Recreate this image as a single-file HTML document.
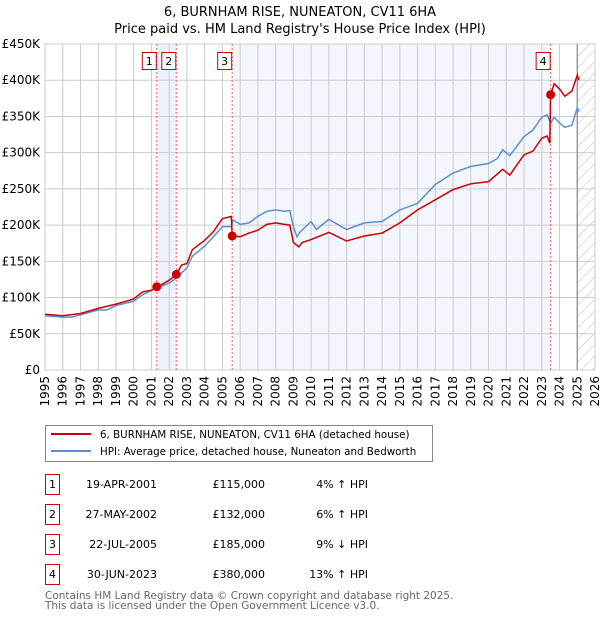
<!DOCTYPE html>
<html><head><meta charset="utf-8"><style>
body{margin:0;background:#fff;width:600px;height:620px;overflow:hidden;font-family:"DejaVu Sans","Liberation Sans",sans-serif}
svg text{font-family:"DejaVu Sans","Liberation Sans",sans-serif}
</style></head><body>
<svg id="chart" width="600" height="620" xmlns="http://www.w3.org/2000/svg">
<defs><pattern id="hatch" patternUnits="userSpaceOnUse" width="8" height="8" patternTransform="rotate(45)"><line x1="0" y1="0" x2="0" y2="8" stroke="#bbb" stroke-width="1"/></pattern></defs>
<text x="300" y="16" text-anchor="middle" font-size="13">6, BURNHAM RISE, NUNEATON, CV11 6HA</text>
<text x="300" y="33" text-anchor="middle" font-size="13">Price paid vs. HM Land Registry's House Price Index (HPI)</text>
<g id="plot"></g>
<g>
<rect x="45.5" y="425.5" width="387" height="36" fill="#fff" stroke="#888"/>
<line x1="51" y1="434" x2="91" y2="434" stroke="#cc0000" stroke-width="2"/>
<text x="100" y="438" font-size="10.3">6, BURNHAM RISE, NUNEATON, CV11 6HA (detached house)</text>
<line x1="51" y1="451" x2="91" y2="451" stroke="#5b8fd0" stroke-width="2"/>
<text x="100" y="455" font-size="10.3">HPI: Average price, detached house, Nuneaton and Bedworth</text>
</g>
<g id="table" font-size="11"></g>
<text x="45" y="599" font-size="10.5" fill="#666">Contains HM Land Registry data © Crown copyright and database right 2025.</text>
<text x="45" y="609" font-size="10.5" fill="#666">This data is licensed under the Open Government Licence v3.0.</text>
</svg>
<script>
const hpiYears=[1995,1996,1996.5,1997,1998,1998.5,1999,2000,2000.5,2001,2001.3,2002,2002.4,2003,2003.3,2004,2004.5,2005,2005.5,2005.6,2006,2006.5,2007,2007.5,2008,2008.5,2008.8,2009,2009.2,2009.4,2010,2010.3,2011,2012,2013,2014,2015,2016,2017,2018,2019,2020,2020.5,2020.8,2021.2,2022,2022.5,2023,2023.3,2023.5,2023.7,2024,2024.3,2024.7,2025,2025.1];
const hpiValues=[75,73,73,76,83,83,89,95,104,110,113,120,127,141,157,171,184,198,198,207,201,203,212,219,221,219,220,198,184,191,205,194,208,194,203,205,221,230,256,272,281,285,292,304,296,322,331,349,352,341,349,341,335,338,362,357];
const paidYears=[1995,1996,1997,1998,1999,2000,2000.5,2001,2001.3,2002,2002.4,2002.7,2003,2003.3,2004,2004.5,2005,2005.5,2005.55,2006,2006.5,2007,2007.5,2008,2008.5,2008.8,2009,2009.3,2009.5,2010,2011,2012,2013,2014,2015,2016,2017,2018,2019,2020,2020.8,2021.2,2022,2022.5,2023,2023.3,2023.45,2023.5,2023.7,2024,2024.3,2024.7,2025,2025.1];
const paidValues=[77,75,78,85,91,98,108,110,114,124,132,145,147,166,179,191,209,212,185,184,189,193,201,203,201,200,176,170,176,180,190,178,185,189,203,221,235,249,257,260,277,269,297,302,320,323,313,380,395,388,378,385,407,400];
const saleYears=[2001.3,2002.4,2005.55,2023.5];
const saleValues=[115,132,185,380];
const saleLabels=["1","2","3","4"];
const saleDates=["19-APR-2001","27-MAY-2002","22-JUL-2005","30-JUN-2023"];
const salePrices=["£115,000","£132,000","£185,000","£380,000"];
const saleDiffs=["4% ↑ HPI","6% ↑ HPI","9% ↓ HPI","13% ↑ HPI"];
const yTicks=[0,50,100,150,200,250,300,350,400,450];
const yTickLabels=["£0","£50K","£100K","£150K","£200K","£250K","£300K","£350K","£400K","£450K"];
const xTicks=[1995,1996,1997,1998,1999,2000,2001,2002,2003,2004,2005,2006,2007,2008,2009,2010,2011,2012,2013,2014,2015,2016,2017,2018,2019,2020,2021,2022,2023,2024,2025,2026];
const X0=45,X1=595,Y0=370,Y1=44;
const xs=y=>X0+(y-1995)/(2026-1995)*(X1-X0);
const ys=v=>Y0-v/450*(Y0-Y1);
const NS="http://www.w3.org/2000/svg";
const plot=document.getElementById('plot');
function mk(tag,attrs,parent){const e=document.createElementNS(NS,tag);for(const k in attrs)e.setAttribute(k,attrs[k]);(parent||plot).appendChild(e);return e;}
let r;
r=mk('rect',{x:xs(saleYears[0]),y:Y1,width:xs(saleYears[1])-xs(saleYears[0]),height:Y0-Y1,fill:'#eef2fc'});


r=mk('rect',{x:xs(saleYears[2]),y:Y1,width:xs(saleYears[3])-xs(saleYears[2]),height:Y0-Y1,fill:'#f3f6fd'});


r=mk('rect',{x:xs(2025),y:Y1,width:X1-xs(2025),height:Y0-Y1,fill:'url(#hatch)'});


yTicks.forEach((t,i)=>{
 const l=mk('line',{x1:X0,x2:X1,y1:ys(t),y2:ys(t),stroke:'#ccc','stroke-width':1});
 
 
 const tx=mk('text',{x:X0-5,y:ys(t)+4,'text-anchor':'end','font-size':12});
 
 
 tx.textContent=yTickLabels[i];
});
xTicks.forEach(t=>{
 const l=mk('line',{x1:xs(t),x2:xs(t),y1:Y1,y2:Y0,stroke:'#ccc','stroke-width':1});
 
 
 const tx=mk('text',{x:0,y:0,'text-anchor':'end','font-size':12,transform:`translate(${xs(t)+4},${Y0+6}) rotate(-90)`});
 
 
 tx.textContent=t;
});
r=mk('rect',{x:X0,y:Y1,width:X1-X0,height:Y0-Y1,fill:'none',stroke:'#ccc'});


r=mk('line',{x1:xs(2025),x2:xs(2025),y1:Y1,y2:Y0,stroke:'#888','stroke-width':1.2});


saleYears.forEach((s,i)=>{
 const l=mk('line',{x1:xs(s),x2:xs(s),y1:Y1,y2:Y0,stroke:'#f06060','stroke-width':1,'stroke-dasharray':'2,2'});
 
 
});
const hp=mk('path',{d:hpiYears.map((y,i)=>(i?'L':'M')+xs(y).toFixed(1)+','+ys(hpiValues[i]).toFixed(1)).join(''),fill:'none',stroke:'#5b8fd0','stroke-width':1.5});


const pp=mk('path',{d:paidYears.map((y,i)=>(i?'L':'M')+xs(y).toFixed(1)+','+ys(paidValues[i]).toFixed(1)).join(''),fill:'none',stroke:'#cc0000','stroke-width':1.5});


saleYears.forEach((s,i)=>{
 const c=mk('circle',{cx:xs(s),cy:ys(saleValues[i]),r:4.5,fill:'#cc0000'});
 
 
 const b=mk('rect',{x:xs(s)-14.5,y:52.5,width:14,height:17,fill:'#fff',stroke:'#cc0000'});
 
 
 const t=mk('text',{x:xs(s)-7.5,y:65,'text-anchor':'middle','font-size':11});
 
 
 t.textContent=saleLabels[i];
});
const tbl=document.getElementById('table');
saleLabels.forEach((lab,i)=>{
 const cy=483+i*30;
 const b=mk('rect',{x:45.5,y:cy-8.5,width:14,height:20,fill:'#fff',stroke:'#cc0000'},tbl);
 
 
 const t=mk('text',{x:52.5,y:cy+5,'text-anchor':'middle'},tbl);
 
 
 t.textContent=lab;
 const d=mk('text',{x:157,y:cy+5,'text-anchor':'end'},tbl);
 
 
 d.textContent=saleDates[i];
 const p=mk('text',{x:265,y:cy+5,'text-anchor':'end'},tbl);
 
 
 p.textContent=salePrices[i];
 const q=mk('text',{x:368,y:cy+5,'text-anchor':'end'},tbl);
 
 
 q.textContent=saleDiffs[i];
});
</script>
</body></html>
